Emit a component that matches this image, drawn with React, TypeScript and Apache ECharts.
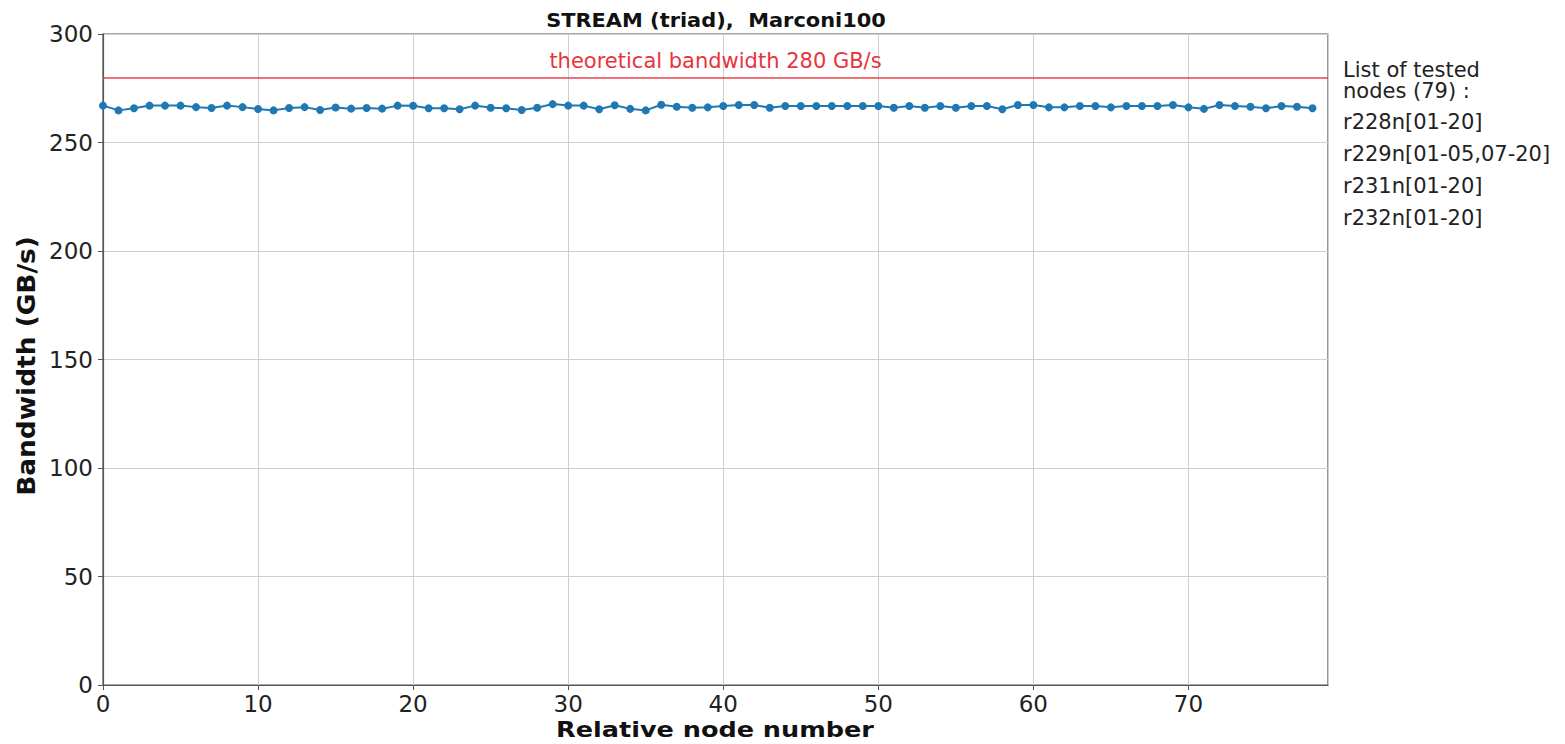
import React, { useEffect, useRef } from "react";
import * as echarts from "echarts";

const TITLE = "STREAM (triad),  Marconi100";
const X_LABEL = "Relative node number";
const Y_LABEL = "Bandwidth (GB/s)";
const THEORETICAL = [280];
const THEORETICAL_LABEL = "theoretical bandwidth 280 GB/s";
const NODE_LIST = [
  "List of tested",
  "nodes (79) :",
  "r228n[01-20]",
  "r229n[01-05,07-20]",
  "r231n[01-20]",
  "r232n[01-20]",
];
const BANDWIDTH = [
  267.0, 264.8, 265.8, 267.0, 267.0, 267.0, 266.3, 265.9, 267.0, 266.3,
  265.4, 264.8, 265.9, 266.3, 265.0, 266.1, 265.6, 265.9, 265.6, 267.0,
  266.9, 265.8, 265.8, 265.3, 267.0, 266.0, 265.8, 265.0, 266.0, 267.7,
  267.0, 267.0, 265.3, 267.2, 265.5, 264.8, 267.4, 266.5, 266.0, 266.2,
  266.8, 267.3, 267.3, 266.0, 266.8, 266.8, 266.8, 266.8, 266.8, 266.8,
  266.8, 266.0, 266.8, 266.0, 266.8, 266.0, 266.8, 266.8, 265.3, 267.3,
  267.3, 266.2, 266.2, 266.8, 266.8, 266.2, 266.8, 266.8, 266.8, 267.3,
  266.2, 265.5, 267.3, 266.8, 266.5, 265.8, 266.8, 266.5, 265.8,
];

const FONT = "DejaVu Sans";

export default function App() {
  const ref = useRef<HTMLDivElement>(null);
  useEffect(() => {
    if (!ref.current) return;
    const chart = echarts.init(ref.current, undefined, { renderer: "svg" });
    const data = BANDWIDTH.map((v, i) => [i, v]);
    const nodeLineY = [70, 91, 122, 154, 186, 218];
    const nodeTexts = NODE_LIST.map((t, i) => ({
      type: "text",
      x: 1343,
      y: nodeLineY[i],
      style: {
        text: t,
        fontFamily: FONT,
        fontSize: 21,
        fill: "#222",
        textAlign: "left",
        textVerticalAlign: "middle",
      },
    }));
    chart.setOption({
      animation: false,
      backgroundColor: "#ffffff",
      textStyle: { fontFamily: FONT },
      grid: {
        left: 103,
        right: 237,
        top: 34,
        bottom: 59,
        show: true,
        borderColor: "#555",
        borderWidth: 1.2,
        backgroundColor: "transparent",
      },
      xAxis: {
        type: "value",
        min: 0,
        max: 79,
        interval: 10,
        axisLine: { show: true, lineStyle: { color: "#555", width: 1.2 } },
        axisTick: { show: true, inside: false, length: 5, lineStyle: { color: "#555" } },
        axisLabel: {
          fontFamily: FONT,
          fontSize: 23,
          color: "#222",
          margin: 7,
          showMaxLabel: false,
        },
        splitLine: { show: true, lineStyle: { color: "#cfcfcf", width: 1 } },
      },
      yAxis: {
        type: "value",
        min: 0,
        max: 300,
        interval: 50,
        axisLine: { show: true, lineStyle: { color: "#555", width: 1.2 } },
        axisTick: { show: true, inside: false, length: 5, lineStyle: { color: "#555" } },
        axisLabel: { fontFamily: FONT, fontSize: 23, color: "#222", margin: 10 },
        splitLine: { show: true, lineStyle: { color: "#cfcfcf", width: 1 } },
      },
      series: [
        {
          type: "line",
          data,
          symbol: "circle",
          symbolSize: 8,
          lineStyle: { color: "#1f77b4", width: 2 },
          itemStyle: { color: "#1f77b4" },
          markLine: {
            silent: true,
            symbol: "none",
            lineStyle: { color: "#e8434a", width: 1.5, type: "solid" },
            label: {
              show: true,
              position: "middle",
              formatter: THEORETICAL_LABEL,
              fontFamily: FONT,
              fontSize: 21,
              color: "#e8343c",
              distance: 6,
            },
            data: THEORETICAL.map((v) => ({ yAxis: v })),
          },
        },
      ],
      graphic: [
        {
          type: "text",
          x: 716,
          y: 20,
          scaleX: 1.1,
          style: {
            text: TITLE,
            fontFamily: FONT,
            fontSize: 19,
            fontWeight: "bold",
            fill: "#111",
            textAlign: "center",
            textVerticalAlign: "middle",
          },
        },
        {
          type: "text",
          x: 715,
          y: 730,
          scaleX: 1.16,
          style: {
            text: X_LABEL,
            fontFamily: FONT,
            fontSize: 22,
            fontWeight: "bold",
            fill: "#111",
            textAlign: "center",
            textVerticalAlign: "middle",
          },
        },
        {
          type: "text",
          x: 27,
          y: 366,
          rotation: Math.PI / 2,
          scaleX: 1.1,
          style: {
            text: Y_LABEL,
            fontFamily: FONT,
            fontSize: 24,
            fontWeight: "bold",
            fill: "#111",
            textAlign: "center",
            textVerticalAlign: "middle",
          },
        },
        ...nodeTexts,
      ],
    });
    return () => chart.dispose();
  }, []);
  return (
    <div
      ref={ref}
      style={{ position: "fixed", left: 0, top: 0, width: 1565, height: 744 }}
    />
  );
}
